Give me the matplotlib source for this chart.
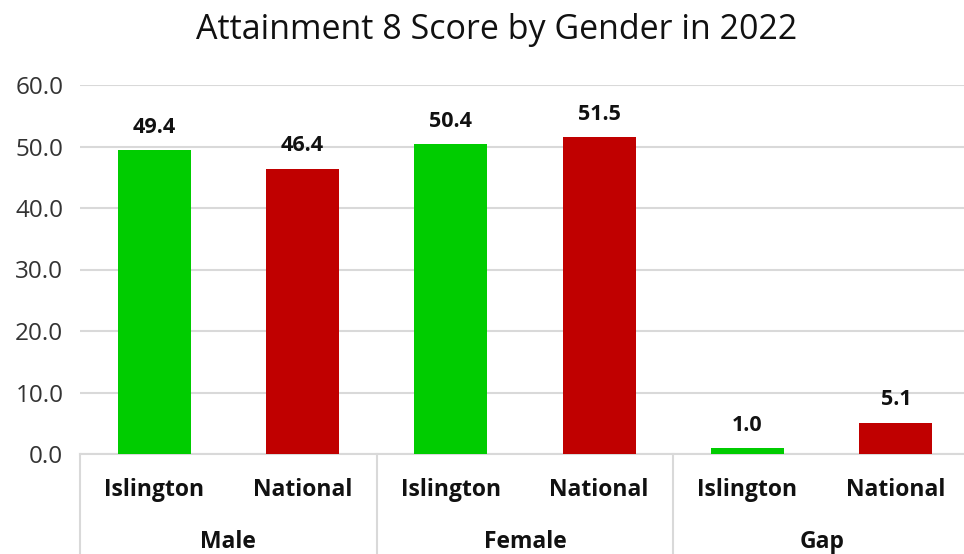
import matplotlib
matplotlib.use('Agg')
import matplotlib.pyplot as plt

groups = ['Male', 'Female', 'Gap']
areas = ['Islington', 'National']
values = [49.4, 46.4, 50.4, 51.5, 1.0, 5.1]
colors = ['#00CC00', '#C00000']

plt.rcParams['font.family'] = ['Open Sans', 'DejaVu Sans']

fig = plt.figure(figsize=(9.64, 5.54), dpi=100)
W, H = 964, 554
ax = fig.add_axes([80 / W, 1 - 454 / H, 890 / W, (454 - 85) / H])

xs = list(range(len(values)))
bar_colors = [colors[i % 2] for i in xs]
ax.bar(xs, values, width=0.49, color=bar_colors, zorder=3)
for x, v in zip(xs, values):
    ax.text(x, v + 2.0, f'{v:.1f}', ha='center', va='bottom',
            fontsize=15.5, fontweight='bold', color='#111111')

ax.set_xlim(-0.5, len(values) - 0.5)
ax.set_ylim(0, 60)
ax.set_yticks(range(0, 61, 10))
ax.set_yticklabels([f'{t:.1f}' for t in range(0, 61, 10)], fontsize=17.5, color='#333333')
ax.tick_params(axis='y', length=0, pad=12)
ax.set_xticks([])
ax.yaxis.grid(True, color='#D9D9D9', linewidth=1.5, zorder=0)
for s in ['top', 'right', 'left']:
    ax.spines[s].set_visible(False)
ax.spines['bottom'].set_color('#D9D9D9')
ax.spines['bottom'].set_linewidth(1.5)

# two-level category axis
trans = ax.get_xaxis_transform()
for i, x in enumerate(xs):
    ax.text(x, -36 / 369, areas[i % 2], transform=trans, ha='center', va='center',
            fontsize=16.5, fontweight='bold', color='#111111')
for g, name in enumerate(groups):
    ax.text(2 * g + 0.5, -88 / 369, name, transform=trans, ha='center', va='center',
            fontsize=16.5, fontweight='bold', color='#111111')
for b in range(len(groups) + 1):
    ax.plot([2 * b - 0.5, 2 * b - 0.5], [0, -110 / 369], transform=trans,
            color='#D9D9D9', linewidth=1.5, clip_on=False)

fig.text(497 / W, 1 - 30 / H, 'Attainment 8 Score by Gender in 2022',
         ha='center', va='center', fontsize=24.5, color='#111111')

fig.savefig('out.png', dpi=100)
